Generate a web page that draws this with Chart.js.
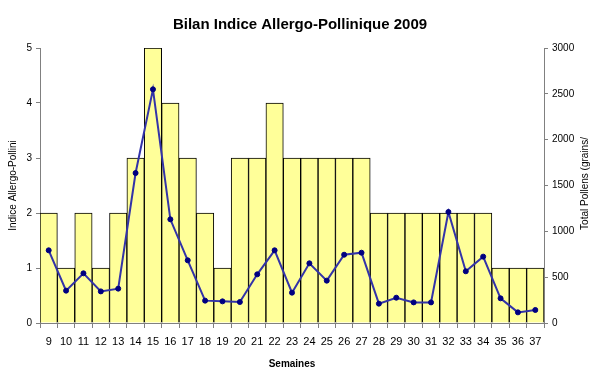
<!DOCTYPE html>
<html>
<head>
<meta charset="utf-8">
<script src="https://cdn.jsdelivr.net/npm/chart.js@4"></script>
<style>
  body { margin: 0; background: #fff; }
  #wrap { width: 600px; height: 374px; }
</style>
</head>
<body>
<div id="wrap"><canvas id="myChart" width="600" height="374"></canvas></div>
<script>
// semaines 9 -> 37
var semaines = ['9','10','11','12','13','14','15','16','17','18','19','20','21','22','23','24','25','26','27','28','29','30','31','32','33','34','35','36','37'];
var indice = [2,1,2,1,2,3,5,4,3,2,1,3,3,4,3,3,3,3,3,2,2,2,2,2,2,2,1,1,1];
var totalPollens = [793,353,542,345,375,1636,2549,1131,684,244,236,229,531,793,331,651,462,745,767,211,276,225,225,1211,564,724,269,116,142];

Chart.defaults.font.family = "'Liberation Sans', Arial, sans-serif";
Chart.defaults.color = '#000';

// titre de l'axe droit, lu de bas en haut comme dans Excel
var rightTitle = {
    id: 'rightTitle',
    afterDraw: function (chart) {
        var c = chart.ctx, a = chart.chartArea;
        c.save();
        c.font = "10px 'Liberation Sans', Arial, sans-serif";
        c.fillStyle = '#000';
        c.textAlign = 'center';
        c.textBaseline = 'middle';
        c.translate(585, (a.top + a.bottom) / 2 - 2);
        c.rotate(-Math.PI / 2);
        c.fillText('Total Pollens (grains/', 0, 0);
        c.restore();
    }
};

var ctx = document.getElementById('myChart').getContext('2d');
var myChart = new Chart(ctx, {
    data: {
        labels: semaines,
        datasets: [{
            type: 'line',
            label: 'Total Pollens',
            data: totalPollens,
            yAxisID: 'y1',
            borderColor: '#3333a8',
            borderWidth: 2,
            pointRadius: 2.5,
            pointBorderWidth: 1,
            pointBackgroundColor: '#000080',
            pointBorderColor: '#000080',
            tension: 0,
            order: 0
        }, {
            type: 'bar',
            label: 'Indice Allergo-Pollinique',
            data: indice,
            yAxisID: 'y',
            backgroundColor: '#ffff99',
            borderColor: '#000',
            borderWidth: 1,
            categoryPercentage: 1.0,
            barPercentage: 1.0,
            order: 1
        }]
    },
    options: {
        responsive: false,
        animation: false,
        layout: { padding: 0 },
        plugins: {
            legend: { display: false },
            tooltip: { enabled: false },
            title: {
                display: true,
                text: 'Bilan Indice Allergo-Pollinique 2009',
                font: { size: 15, weight: 'bold' },
                color: '#000',
                padding: { top: 16, bottom: 14 }
            }
        },
        scales: {
            x: {
                grid: { offset: true, drawOnChartArea: false, color: '#808080', tickLength: 5 },
                border: { color: '#808080' },
                ticks: { font: { size: 11 }, maxRotation: 0, autoSkip: false, padding: 7 },
                title: { display: true, text: 'Semaines', font: { size: 10, weight: 'bold' }, align: 'center', padding: { top: 3 } },
                afterFit: function (scale) { scale.height = 51; }
            },
            y: {
                position: 'left',
                min: 0,
                max: 5,
                ticks: { stepSize: 1, font: { size: 10 }, padding: 4 },
                grid: { drawOnChartArea: false, color: '#808080', tickLength: 4 },
                border: { color: '#808080' },
                title: { display: true, text: 'Indice Allergo-Pollini', font: { size: 10 }, padding: { top: 7, bottom: 0 } },
                afterFit: function (scale) { scale.width = 40; }
            },
            y1: {
                position: 'right',
                min: 0,
                max: 3000,
                ticks: { stepSize: 500, font: { size: 10 }, padding: 4, callback: function (v) { return String(v); } },
                grid: { drawOnChartArea: false, color: '#808080', tickLength: 4 },
                border: { color: '#808080' },
                afterFit: function (scale) { scale.width = 56; }
            }
        }
    },
    plugins: [rightTitle]
});
</script>
</body>
</html>
